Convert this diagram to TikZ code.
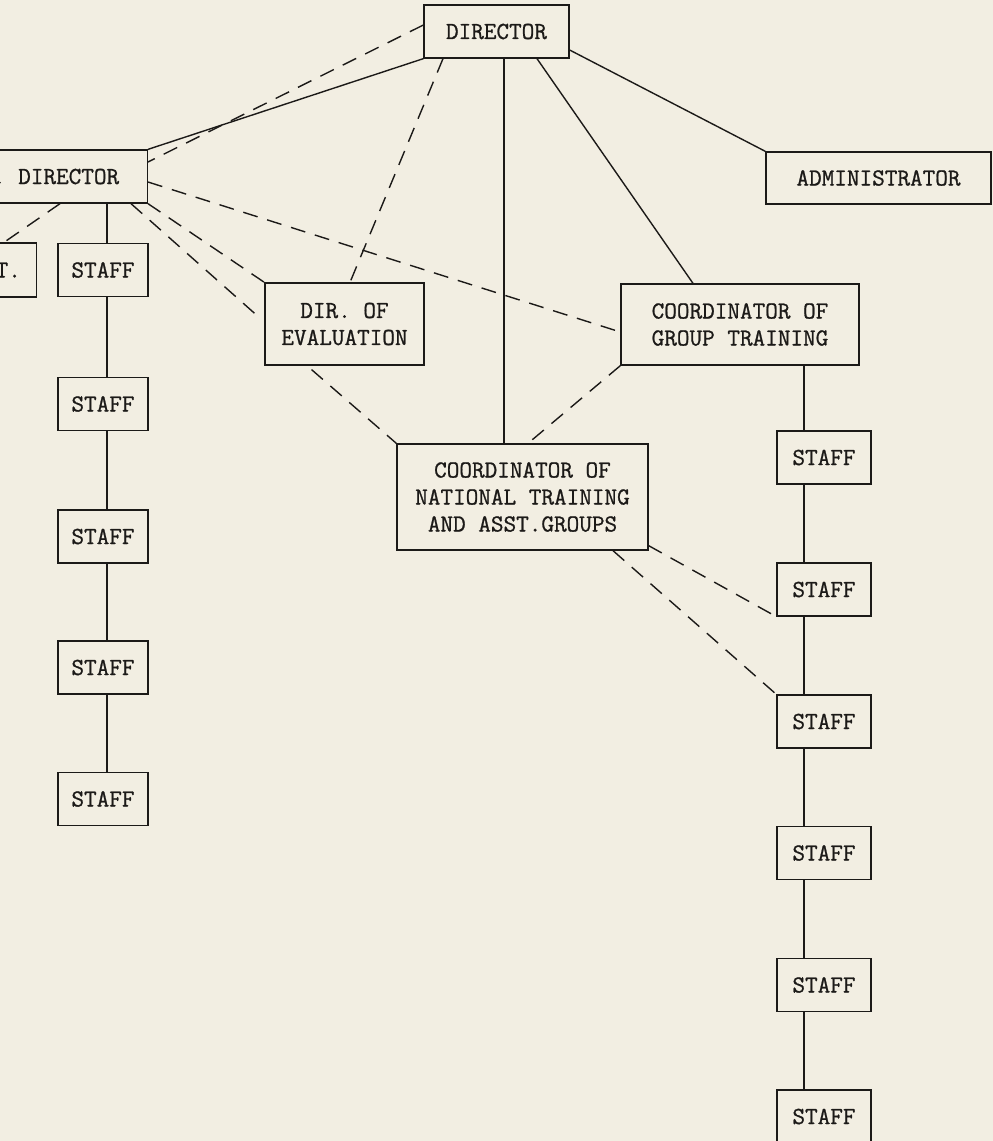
\documentclass[tikz,border=0pt]{standalone}
\usepackage{fontspec}
\newfontfamily\typewriter[FakeBold=0.9]{Latin Modern Mono}
\usetikzlibrary{calc}
\definecolor{paper}{RGB}{242,238,226}
\definecolor{ink}{RGB}{28,26,24}
\begin{document}
\begin{tikzpicture}[x=1pt,y=-1pt,
  every node/.style={font=\typewriter\fontsize{24.5pt}{27pt}\selectfont, text=ink},
  box/.style={draw=ink, line width=1.3pt, inner sep=0pt, align=center, fill=paper},
  staffbox/.style={box, minimum width=#1, minimum height=53pt},
  solidline/.style={draw=ink, line width=1.4pt},
  dashline/.style={draw=ink, line width=1.4pt, dash pattern=on 15pt off 10pt}]
\useasboundingbox (0,0) rectangle (993,1141);
\fill[paper] (0,0) rectangle (993,1141);
\clip (0,0) rectangle (993,1141);

% column guides for the vertical chains
\coordinate (lx) at (107,0);
\coordinate (mx) at (504,0);
\coordinate (rx) at (804,0);

% top level
\node[box, minimum width=145pt, minimum height=53pt] (dir) at (496.5,31.5) {DIRECTOR};
\node[box, minimum width=225pt, minimum height=52pt] (adm) at (878.5,178) {ADMINISTRATOR};
\node[box, minimum width=233pt, minimum height=53pt, anchor=east] (dep) at (148,176.5) {ASST. DIRECTOR};

% second level
\node[box, minimum width=94pt, minimum height=54pt, anchor=east] (asst) at (37,270) {ASST.};
\node[box, minimum width=159pt, minimum height=82pt] (eval) at (344.5,324) {DIR. OF\\EVALUATION};
\node[box, minimum width=238pt, minimum height=81pt] (grp) at (740,324.5) {COORDINATOR OF\\GROUP TRAINING};
\node[box, minimum width=251pt, minimum height=106pt] (nat) at (522.5,497) {COORDINATOR OF\\NATIONAL TRAINING\\AND ASST.GROUPS};

% left staff column
\node[staffbox=90pt] (sl1) at (103,270) {STAFF};
\node[staffbox=90pt] (sl2) at (103,404) {STAFF};
\node[staffbox=90pt] (sl3) at (103,536.5) {STAFF};
\node[staffbox=90pt] (sl4) at (103,667.5) {STAFF};
\node[staffbox=90pt] (sl5) at (103,799) {STAFF};

% right staff column
\node[staffbox=94pt] (sr1) at (824,457.5) {STAFF};
\node[staffbox=94pt] (sr2) at (824,589.5) {STAFF};
\node[staffbox=94pt] (sr3) at (824,721.5) {STAFF};
\node[staffbox=94pt] (sr4) at (824,853) {STAFF};
\node[staffbox=94pt] (sr5) at (824,985) {STAFF};
\node[staffbox=94pt] (sr6) at (824,1116.5) {STAFF};

% line authority
\draw[solidline] (dir.south west) -- (dep.north east);
\draw[solidline] (dir.south -| mx) -- (nat.north -| mx);
\draw[solidline] ([xshift=40.5pt]dir.south) -- ([xshift=-47pt]grp.north);
\draw[solidline] ([yshift=-18.5pt]dir.east) -- (adm.north west);

\draw[solidline] (dep.south -| lx) -- (sl1.north -| lx);
\draw[solidline] (sl1.south -| lx) -- (sl2.north -| lx);
\draw[solidline] (sl2.south -| lx) -- (sl3.north -| lx);
\draw[solidline] (sl3.south -| lx) -- (sl4.north -| lx);
\draw[solidline] (sl4.south -| lx) -- (sl5.north -| lx);

\draw[solidline] (grp.south -| rx) -- (sr1.north -| rx);
\draw[solidline] (sr1.south -| rx) -- (sr2.north -| rx);
\draw[solidline] (sr2.south -| rx) -- (sr3.north -| rx);
\draw[solidline] (sr3.south -| rx) -- (sr4.north -| rx);
\draw[solidline] (sr4.south -| rx) -- (sr5.north -| rx);
\draw[solidline] (sr5.south -| rx) -- (sr6.north -| rx);

% coordination links
\draw[dashline] ([yshift=6.5pt]dir.west) -- ([yshift=14.5pt]dep.east);
\draw[dashline] ([xshift=-53.5pt]dir.south) -- ([xshift=5.5pt]eval.north);
\draw[dashline] ([yshift=-5.5pt]dep.east) -- ([yshift=-7.5pt]grp.west);
\draw[dashline] (dep.south east) -- (eval.north west);
\draw[dashline, shorten >=9pt] ([xshift=-17pt]dep.south east) -- ([yshift=2pt]eval.west);
\draw[dashline] ([xshift=-88pt]dep.south east) -- ([xshift=-33pt]asst.north east);
\draw[dashline, shorten <=6pt] ([xshift=-37.5pt]eval.south) -- (nat.north west);
\draw[dashline] (grp.south west) -- ([xshift=5.5pt]nat.north);
\draw[dashline] ([yshift=5pt]nat.south east) -- (sr2.south west);
\draw[dashline] ([xshift=90.5pt]nat.south) -- (sr3.north west);
\end{tikzpicture}
\end{document}
